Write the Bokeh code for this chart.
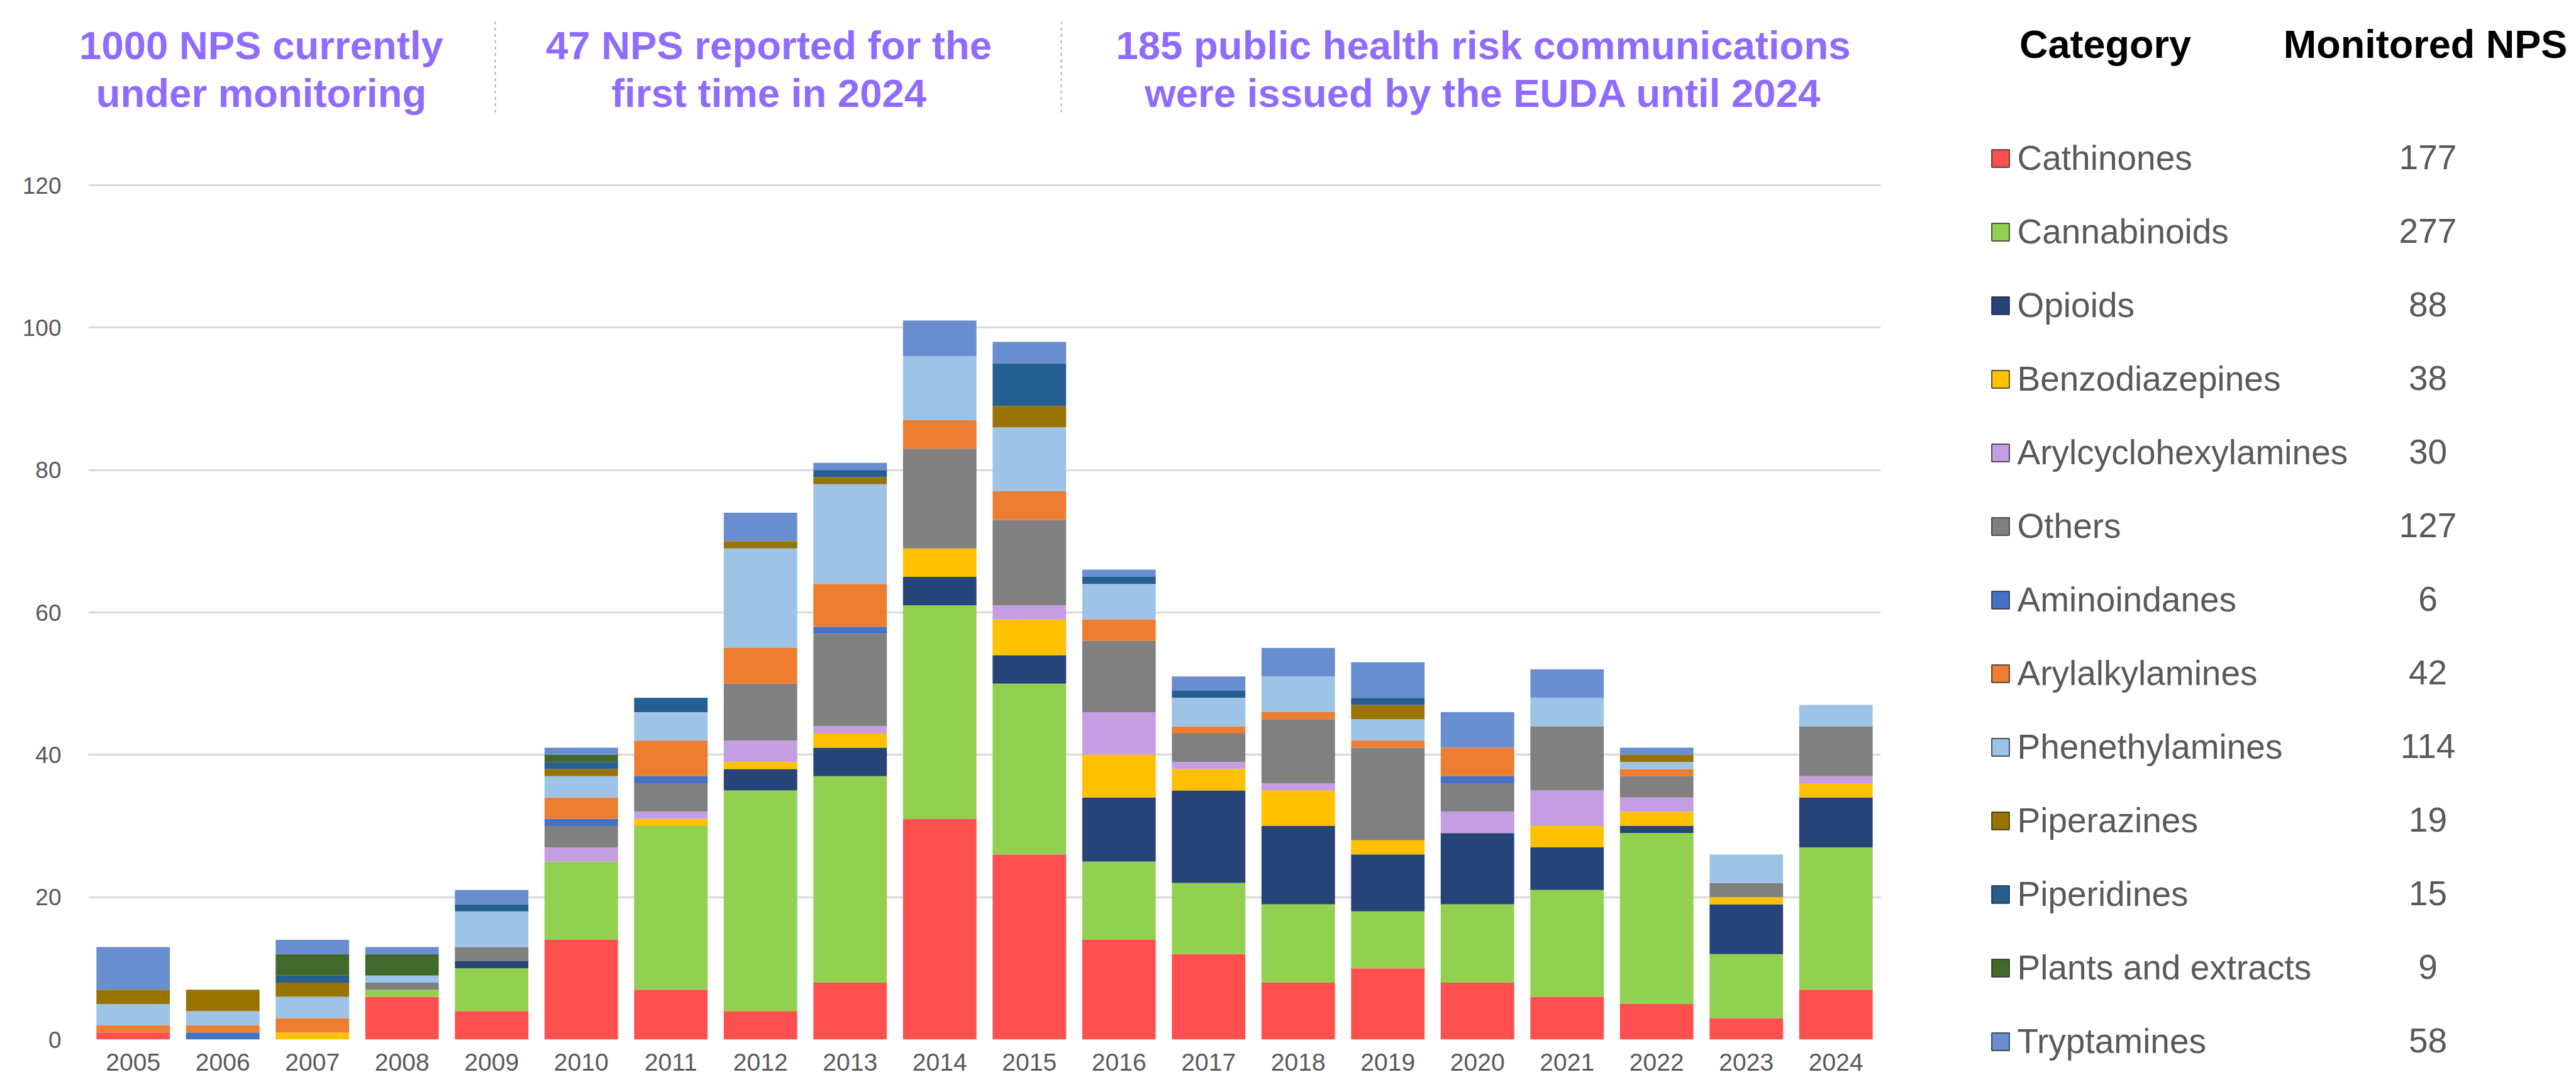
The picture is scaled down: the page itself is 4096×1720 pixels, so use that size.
import numpy as np
from bokeh.plotting import figure
from bokeh.layouts import row, column
from bokeh.models import (ColumnDataSource, Legend, LegendItem, Label,
                          FactorRange, Range1d, FixedTicker)
from bokeh.embed import file_html
from bokeh.resources import INLINE

# ---------------- data ----------------
years = [str(y) for y in range(2005, 2025)]

categories = ["Cathinones", "Cannabinoids", "Opioids", "Benzodiazepines",
              "Arylcyclohexylamines", "Others", "Aminoindanes", "Arylalkylamines",
              "Phenethylamines", "Piperazines", "Piperidines", "Plants and extracts",
              "Tryptamines"]

cathinones = [1, 0, 0, 6, 4, 14, 7, 4, 8, 31, 26, 14, 12, 8, 10, 8, 6, 5, 3, 7]
cannabinoids = [0, 0, 0, 1, 6, 11, 23, 31, 29, 30, 24, 11, 10, 11, 8, 11, 15, 24, 9, 20]
opioids = [0, 0, 0, 0, 1, 0, 0, 3, 4, 4, 4, 9, 13, 11, 8, 10, 6, 1, 7, 7]
benzodiazepines = [0, 0, 1, 0, 0, 0, 1, 1, 2, 4, 5, 6, 3, 5, 2, 0, 3, 2, 1, 2]
arylcyclohexylamines = [0, 0, 0, 0, 0, 2, 1, 3, 1, 0, 2, 6, 1, 1, 0, 3, 5, 2, 0, 1]
others = [0, 0, 0, 1, 2, 3, 4, 8, 13, 14, 12, 10, 4, 9, 13, 4, 9, 3, 2, 7]
aminoindanes = [0, 1, 0, 0, 0, 1, 1, 0, 1, 0, 0, 0, 0, 0, 0, 1, 0, 0, 0, 0]
arylalkylamines = [1, 1, 2, 0, 0, 3, 5, 5, 6, 4, 4, 3, 1, 1, 1, 4, 0, 1, 0, 0]
phenethylamines = [3, 2, 3, 1, 5, 3, 4, 14, 14, 9, 9, 5, 4, 5, 3, 0, 4, 1, 4, 3]
piperazines = [2, 3, 2, 0, 0, 1, 0, 1, 1, 0, 3, 0, 0, 0, 2, 0, 0, 1, 0, 0]
piperidines = [0, 0, 1, 0, 1, 1, 2, 0, 1, 0, 6, 1, 1, 0, 1, 0, 0, 0, 0, 0]
plants = [0, 0, 3, 3, 0, 1, 0, 0, 0, 0, 0, 0, 0, 0, 0, 0, 0, 0, 0, 0]
tryptamines = [6, 0, 2, 1, 2, 1, 0, 4, 1, 5, 3, 1, 2, 4, 5, 5, 4, 1, 0, 0]

monitored = [177, 277, 88, 38, 30, 127, 6, 42, 114, 19, 15, 9, 58]

y_ticks = [0, 20, 40, 60, 80, 100, 120]

headline_1 = ["1000 NPS currently", "under monitoring"]
headline_2 = ["47 NPS reported for the", "first time in 2024"]
headline_3 = ["185 public health risk communications",
              "were issued by the EUDA until 2024"]

table_headers = ["Category", "Monitored NPS"]

# ---------------- styles ----------------
colors = ["#FF5050", "#92D050", "#264478", "#FFC000", "#C49EE0", "#808080",
          "#4472C4", "#ED7D31", "#9DC3E6", "#997300", "#255E91", "#43682B",
          "#698ED0"]
PURPLE = "#8F6BFF"
GREY_TXT = "#595959"
FONT = "Liberation Sans"

series = [cathinones, cannabinoids, opioids, benzodiazepines, arylcyclohexylamines,
          others, aminoindanes, arylalkylamines, phenethylamines, piperazines,
          piperidines, plants, tryptamines]

data = {"year": years}
for name, vals in zip(categories, series):
    data[name] = vals
source = ColumnDataSource(data)

# page geometry (screen px)
TOTAL_W, TOTAL_H = 4096, 1720
LEFT_W = 3090
HEAD_H = 250
MAIN_H = TOTAL_H - HEAD_H
LEG_W = TOTAL_W - LEFT_W
ML, MR = 140, LEFT_W - 2990          # chart frame: screen x 140..2990


def style(f):
    f.outline_line_color = None
    f.background_fill_color = "white"
    f.border_fill_color = "white"
    try:
        f.frame_align = False
    except Exception:
        pass
    return f


# ---------------- header (key figures) ----------------
head = style(figure(width=LEFT_W, height=HEAD_H, x_range=Range1d(0, LEFT_W),
                    y_range=Range1d(HEAD_H, 0), x_axis_type=None,
                    y_axis_type=None, output_backend="svg", toolbar_location=None,
                    min_border=0))
head.grid.visible = False
for lines, cx in ((headline_1, 415), (headline_2, 1222), (headline_3, 2358)):
    for line, base in zip(lines, (71.6, 147.8)):
        head.add_layout(Label(x=cx, y=base, text=line, text_align="center",
                              text_baseline="alphabetic", text_font=FONT,
                              text_font_style="bold", text_font_size="63.5px",
                              text_color=PURPLE))
head.segment(x0=[787, 1687], y0=[34, 34], x1=[787, 1687], y1=[184, 184],
             line_color="#A6A6A6", line_width=2, line_dash="4 6")

# ---------------- main chart ----------------
Y_END = 120 * 1362 / 1358
p = style(figure(width=LEFT_W, height=MAIN_H, x_range=FactorRange(*years),
                 y_range=Range1d(0, Y_END), output_backend="svg",
                 toolbar_location=None, min_border_left=ML, min_border_right=MR,
                 min_border_top=40, min_border_bottom=68))

p.vbar_stack(categories, x="year", width=0.82, source=source,
             fill_color=colors, line_color=None)

p.ygrid.ticker = FixedTicker(ticks=y_ticks)
p.yaxis.ticker = FixedTicker(ticks=y_ticks)
p.ygrid.grid_line_color = "#D9D9D9"
p.ygrid.grid_line_width = 3
p.xgrid.visible = False
for ax in (p.xaxis[0], p.yaxis[0]):
    ax.axis_line_color = None
    ax.major_tick_line_color = None
    ax.minor_tick_line_color = None
    ax.major_tick_out = 0
    ax.major_tick_in = 0
    ax.minor_tick_out = 0
    ax.major_label_text_color = GREY_TXT
    ax.major_label_text_font = FONT
p.yaxis.major_label_text_font_size = "37px"
p.yaxis.major_label_standoff = 43
p.xaxis.major_label_text_font_size = "39px"
p.xaxis.major_label_standoff = 22

# ---------------- legend table ----------------
leg = style(figure(width=LEG_W, height=TOTAL_H, x_range=Range1d(LEFT_W, TOTAL_W),
                   y_range=Range1d(TOTAL_H, 0), x_axis_type=None,
                   y_axis_type=None, output_backend="svg", toolbar_location=None,
                   min_border=0))
leg.grid.visible = False

items = []
nan = np.array([np.nan])
for name, col in zip(categories, colors):
    r = leg.rect(x=nan, y=nan, width=1, height=1, fill_color=col,
                 line_color="#262626", line_width=1.5)
    items.append(LegendItem(label=name, renderers=[r]))

ROW0, PITCH = 251.4, 117
ITEM_H, SPACING = 71, 46
leg_height = len(categories) * ITEM_H + (len(categories) - 1) * SPACING
leg_bottom = ROW0 - ITEM_H / 2 + leg_height
legend = Legend(items=items, location=(3162.5 - LEFT_W, TOTAL_H - leg_bottom),
                glyph_width=35, glyph_height=35, label_standoff=10,
                label_height=ITEM_H, spacing=SPACING, padding=0, margin=0,
                border_line_color=None, background_fill_alpha=0,
                label_text_font=FONT, label_text_font_size="55px",
                label_text_color=GREY_TXT)
leg.add_layout(legend)

for i, n in enumerate(monitored):
    leg.add_layout(Label(x=3860, y=249.4 + PITCH * i, text=str(n),
                         text_align="center", text_baseline="middle",
                         text_font=FONT, text_font_size="55px",
                         text_color=GREY_TXT))

for txt, cx in zip(table_headers, (3347, 3856)):
    leg.add_layout(Label(x=cx, y=69, text=txt, text_align="center",
                         text_baseline="alphabetic", text_font=FONT,
                         text_font_style="bold", text_font_size="63px",
                         text_color="black"))

layout = row(column(head, p), leg)
open("out.html", "w").write(file_html(layout, INLINE, title="NPS monitored"))
